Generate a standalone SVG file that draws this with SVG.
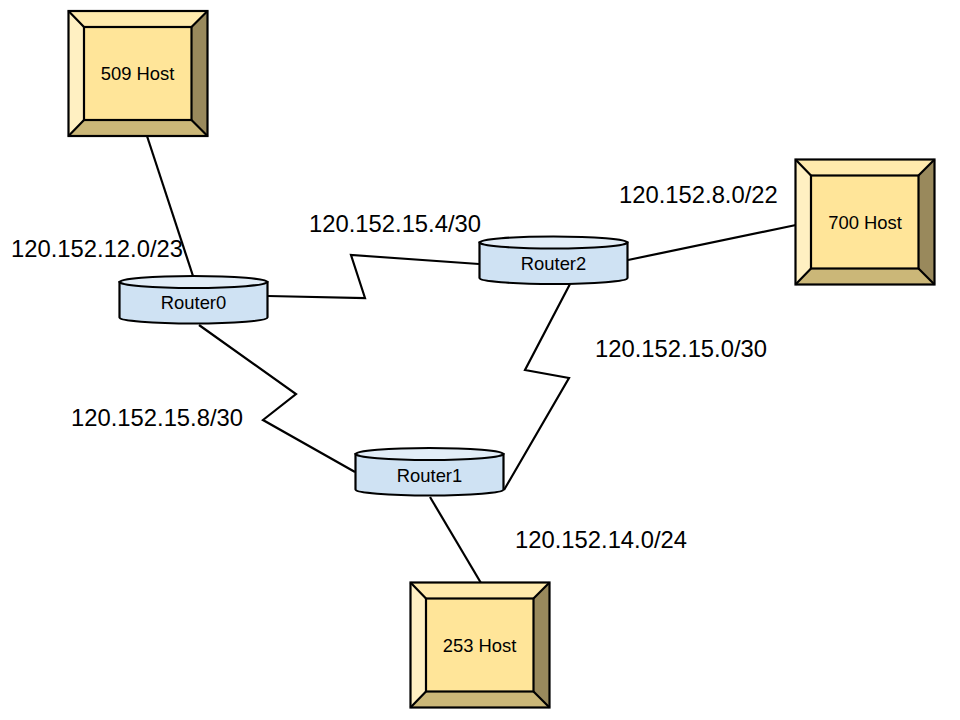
<svg xmlns="http://www.w3.org/2000/svg" width="960" height="720" viewBox="0 0 960 720">
<style>
text{font-family:"Liberation Sans",Arial,sans-serif;fill:#000}
.lbl{font-size:23.8px}
.nd{font-size:18.4px;text-anchor:middle}
.s{stroke:#000;stroke-width:2.2;stroke-linejoin:miter}
.conn{fill:none;stroke:#000;stroke-width:2.2}
.face{fill:#ffe599}.top{fill:#ffeaad}.left{fill:#fff0c2}.bot{fill:#cbb778}.right{fill:#99895c}
.body{fill:#cfe2f3}.cap{fill:#e2edf7}
</style>
<defs>
<g id="host">
<rect class="face" x="0" y="0" width="139" height="125"/>
<path class="top" d="M0 0H139L123 16H16Z"/>
<path class="left" d="M0 0L16 16V109L0 125Z"/>
<path class="right" d="M139 0V125L123 109V16Z"/>
<path class="bot" d="M0 125L16 109H123L139 125Z"/>
<rect x="0" y="0" width="139" height="125" fill="none" class="s"/>
<rect x="15.5" y="16" width="107.5" height="93" fill="none" class="s"/>
<path class="s" d="M0 0L15.5 16M139 0L123 16M0 125L15.5 109M139 125L123 109" fill="none"/>
</g>
<g id="router">
<path class="body s" d="M0 6V41.5C0 44.8 33 47.5 74 47.5S148 44.8 148 41.5V6Z"/>
<ellipse class="cap s" cx="74" cy="6" rx="74" ry="6"/>
</g>
</defs>
<g id="connectors" class="conn">
<path d="M147 136L193 276"/>
<path d="M268 296L365 298L351 255L479 264"/>
<path d="M628 260L796 225"/>
<path d="M570 284L525 370L569 378L504 490"/>
<path d="M199 325L296 394L263 420L355 472"/>
<path d="M430 497L481 583"/>
</g>
<g id="host509"><use href="#host" x="68.5" y="11"/><text class="nd" x="137.5" y="80">509 Host</text></g>
<g id="host700"><use href="#host" x="795.5" y="159.5"/><text class="nd" x="865" y="229">700 Host</text></g>
<g id="host253"><use href="#host" x="410.5" y="582.5"/><text class="nd" x="479.5" y="652">253 Host</text></g>
<g id="router0"><use href="#router" x="119.5" y="276"/><text class="nd" x="193.5" y="309">Router0</text></g>
<g id="router1"><use href="#router" x="355.5" y="448"/><text class="nd" x="429.5" y="482">Router1</text></g>
<g id="router2"><use href="#router" x="479.5" y="236.5"/><text class="nd" x="553.5" y="270">Router2</text></g>
<g id="labels">
<text class="lbl" x="11" y="257">120.152.12.0/23</text>
<text class="lbl" x="309" y="232">120.152.15.4/30</text>
<text class="lbl" x="619" y="203">120.152.8.0/22</text>
<text class="lbl" x="595" y="357">120.152.15.0/30</text>
<text class="lbl" x="71" y="426">120.152.15.8/30</text>
<text class="lbl" x="515" y="548">120.152.14.0/24</text>
</g>
</svg>
